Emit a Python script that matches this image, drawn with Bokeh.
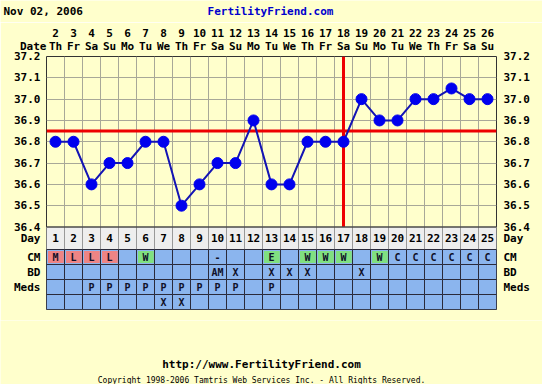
from bokeh.plotting import figure
from bokeh.layouts import column, row
from bokeh.models import Range1d, LinearAxis, FixedTicker, PrintfTickFormatter
from bokeh.core.properties import value
from bokeh.embed import file_html
from bokeh.resources import INLINE

# ---------------- data ----------------
days = list(range(1, 26))
dates = list(range(2, 27))
weekdays = ["Th", "Fr", "Sa", "Su", "Mo", "Tu", "We", "Th", "Fr", "Sa", "Su", "Mo", "Tu",
            "We", "Th", "Fr", "Sa", "Su", "Mo", "Tu", "We", "Th", "Fr", "Sa", "Su"]
temps = [36.8, 36.8, 36.6, 36.7, 36.7, 36.8, 36.8, 36.5, 36.6, 36.7, 36.7, 36.9, 36.6,
         36.6, 36.8, 36.8, 36.8, 37.0, 36.9, 36.9, 37.0, 37.0, 37.05, 37.0, 37.0]
coverline = 36.85
ovulation_day = 17
temp_ticks = [36.4, 36.5, 36.6, 36.7, 36.8, 36.9, 37.0, 37.1, 37.2]
cm = ["M", "L", "L", "L", "", "W", "", "", "", "-", "", "", "E", "", "W", "W", "W", "",
      "W", "C", "C", "C", "C", "C", "C"]
bd = ["", "", "", "", "", "", "", "", "", "AM", "X", "", "X", "X", "X", "", "", "X",
      "", "", "", "", "", "", ""]
meds = ["", "", "P", "P", "P", "P", "P", "P", "P", "P", "P", "", "P", "", "", "", "", "",
        "", "", "", "", "", "", ""]
extra = ["", "", "", "", "", "", "X", "X", "", "", "", "", "", "", "", "", "", "", "",
         "", "", "", "", "", ""]
row_names = ["Day", "CM", "BD", "Meds"]
date_label = "Date"
date_text = "Nov 02, 2006"
site_text = "FertilityFriend.com"
url_text = "http://www.FertilityFriend.com"
copy_text = "Copyright 1998-2006 Tamtris Web Services Inc. - All Rights Reserved."

# ---------------- style / layout ----------------
BG = "#FFFFCC"
BLUE = "#8BB5EE"
PINK = "#EE8484"
GREEN = "#80E080"
FONT = "DejaVu Sans Mono"
cm_colors = {"M": PINK, "L": PINK, "W": GREEN, "E": GREEN}
W, H = 542, 384
HEAD_H, FOOT_H = 22, 64
FL, FT, FW, FH = 46, 56, 450, 253       # frame left/top/width/height on the page (px)
DPP = 0.8 / 170.5                        # degrees per pixel
y_start = 37.2 - FH * DPP
row_px = [0, 22.5, 37.5, 52.5, 67.5, 82.5]   # table row boundaries below 36.4 (px)
row_b = [36.4 - r * DPP for r in row_px]
row_c = [(row_b[i] + row_b[i + 1]) / 2 for i in range(5)]


def text_fig(height, top):
    f = figure(width=W, height=height, x_range=Range1d(0, W), y_range=Range1d(top + height, top),
               x_axis_type=None, y_axis_type=None, toolbar_location=None, output_backend="svg",
               min_border=0, background_fill_color=BG, border_fill_color=BG,
               outline_line_color=None)
    return f


# header
head = text_fig(HEAD_H, 0)
head.text(x=[3], y=[11], text=[date_text], text_font=value(FONT), text_font_style="bold",
          text_font_size="11px", text_align="left", text_baseline="middle", text_color="black")
head.text(x=[270], y=[11], text=[site_text], text_font=value(FONT), text_font_style="bold",
          text_font_size="11px", text_align="center", text_baseline="middle", text_color="#0000CC")

# main chart
p = figure(frame_width=FW, frame_height=FH, output_backend="svg", toolbar_location=None,
           x_range=Range1d(0.5, 25.5), y_range=Range1d(y_start, 37.2),
           x_axis_location="above", min_border_left=FL, min_border_right=W - FL - FW,
           min_border_top=FT - HEAD_H, min_border_bottom=H - FOOT_H - FT - FH,
           background_fill_color=BG, border_fill_color=BG)
p.outline_line_color = "#333333"

p.xgrid.ticker = FixedTicker(ticks=[d - 0.5 for d in days] + [days[-1] + 0.5])
p.ygrid.ticker = FixedTicker(ticks=temp_ticks)
for g in (p.xgrid, p.ygrid):
    g.grid_line_color = "#A8A898"
    g.grid_line_width = 1

yticks = temp_ticks + row_c[:4]
overrides = {row_c[i]: row_names[i] for i in range(4)}
right = LinearAxis()
p.add_layout(right, "right")
for ax in (p.yaxis[0], right):
    ax.ticker = FixedTicker(ticks=yticks)
    ax.formatter = PrintfTickFormatter(format="%.1f")
    ax.major_label_overrides = overrides
xa = p.xaxis[0]
xa.ticker = FixedTicker(ticks=[0.5] + days)
xover = {d: f"{dt}\n{wd}" for d, dt, wd in zip(days, dates, weekdays)}
xover[0.5] = date_label + "\u00a0" * 4
xa.major_label_overrides = xover
for ax in [p.yaxis[0], right, xa]:
    ax.axis_line_color = None
    ax.major_tick_line_color = None
    ax.minor_tick_line_color = None
    ax.major_label_text_font = FONT
    ax.major_label_text_font_style = "bold"
    ax.major_label_text_font_size = "11px"
    ax.major_label_text_color = "black"
p.yaxis[0].major_label_standoff = 0
right.major_label_standoff = 1
xa.major_label_standoff = -2
xa.major_label_text_line_height = 1.0

# coverline and ovulation line
p.segment(x0=[0.5], x1=[25.5], y0=[coverline], y1=[coverline], line_color="#EE0000", line_width=3)
p.segment(x0=[ovulation_day], x1=[ovulation_day], y0=[temp_ticks[0]], y1=[temp_ticks[-1]],
          line_color="#EE0000", line_width=3)

# temperature curve
p.line(days, temps, line_color="#1414B4", line_width=2)
p.scatter(days, temps, size=11, fill_color="#0000EE", line_color="#0000EE")

# table
left = [d - 0.5 for d in days]
rightx = [d + 0.5 for d in days]
p.quad(left=left, right=rightx, top=row_b[0], bottom=row_b[1], fill_color="#EEEEEE",
       line_color="#999999")
for i in range(1, 5):
    p.quad(left=left, right=rightx, top=row_b[i], bottom=row_b[i + 1], fill_color=BLUE,
           line_color="#2A2A3A")
cx = [d for d, c in zip(days, cm) if c in cm_colors]
cc = [cm_colors[c] for c in cm if c in cm_colors]
ix, iy = 1.5 / 18, 1.5 * DPP
p.quad(left=[x - 0.5 + ix for x in cx], right=[x + 0.5 - ix * 0.5 for x in cx],
       top=row_b[1] - iy, bottom=row_b[2] + iy, fill_color=cc, line_color=None)
p.segment(x0=[0.5], x1=[25.5], y0=[row_b[0]], y1=[row_b[0]], line_color="#222222", line_width=1)

p.text(x=days, y=[row_c[0]] * 25, text=[str(d) for d in days], text_font=value(FONT),
       text_font_style="bold", text_font_size="11px", text_align="center",
       text_baseline="middle", text_color="black")
for i, vals in enumerate([cm, bd, meds, extra], start=1):
    p.text(x=days, y=[row_c[i]] * 25, text=vals, text_font=value(FONT),
           text_font_style="bold", text_font_size="10px", text_align="center",
           text_baseline="middle", text_color="#101028")

# footer
foot = text_fig(FOOT_H, H - FOOT_H)
foot.text(x=[261], y=[364], text=[url_text], text_font=value(FONT), text_font_style="bold",
          text_font_size="11px", text_align="center", text_baseline="middle", text_color="black")
foot.text(x=[261], y=[380], text=[copy_text], text_font=value(FONT), text_font_style="normal",
          text_font_size="8px", text_align="center", text_baseline="middle", text_color="black")

layout = column(row(head), p, row(foot), spacing=0)
open("out.html", "w").write(file_html(layout, INLINE))
